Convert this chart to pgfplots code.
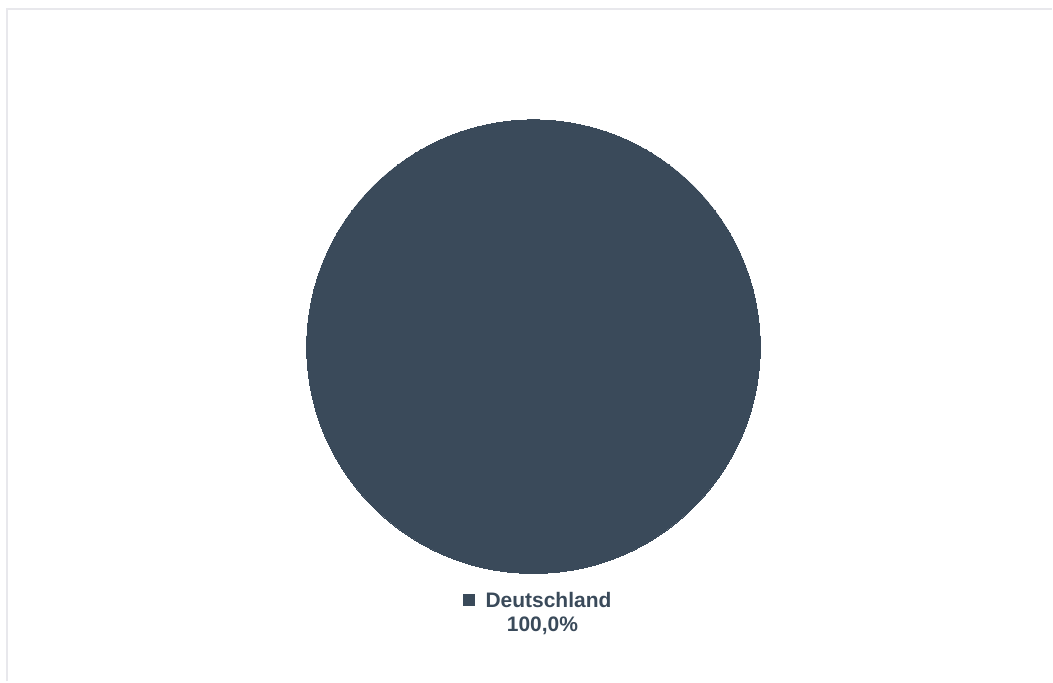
\documentclass[border=0pt]{standalone}
\usepackage{fontspec}
\setmainfont{Liberation Sans}
\usepackage{pgfplots}
\pgfplotsset{compat=1.18}
\definecolor{slate}{HTML}{3A4A5A}
\definecolor{framegray}{HTML}{E8E8EC}

\begin{document}
\begin{tikzpicture}
\begin{axis}[
  scale only axis,
  width=1053pt, height=682pt,
  xmin=0, xmax=1053, ymin=0, ymax=682,
  hide axis, clip=false,
]
% keep the full canvas as the bounding box
\path (axis cs:0,0) rectangle (axis cs:1053,682);
% outer frame (top and left edges only)
\draw[framegray, line width=2pt] (axis cs:7,0) -- (axis cs:7,673) -- (axis cs:1053,673);

% single slice: Deutschland 100,0%
\addplot[slate, only marks, mark=*, mark size=227pt,
  mark options={fill=slate, draw=slate, line width=0pt}] coordinates {(534,335)};

% label
\addplot[slate, only marks, mark=square*, mark size=5.5pt,
  mark options={fill=slate, draw=slate}] coordinates {(469,82)};
\node[anchor=base, text=slate, font=\fontsize{21}{24}\selectfont\bfseries]
  at (axis cs:549,74) {Deutschland};
\node[anchor=base, text=slate, font=\fontsize{21}{24}\selectfont\bfseries]
  at (axis cs:543,50) {100,0\%};
\end{axis}
\end{tikzpicture}
\end{document}
